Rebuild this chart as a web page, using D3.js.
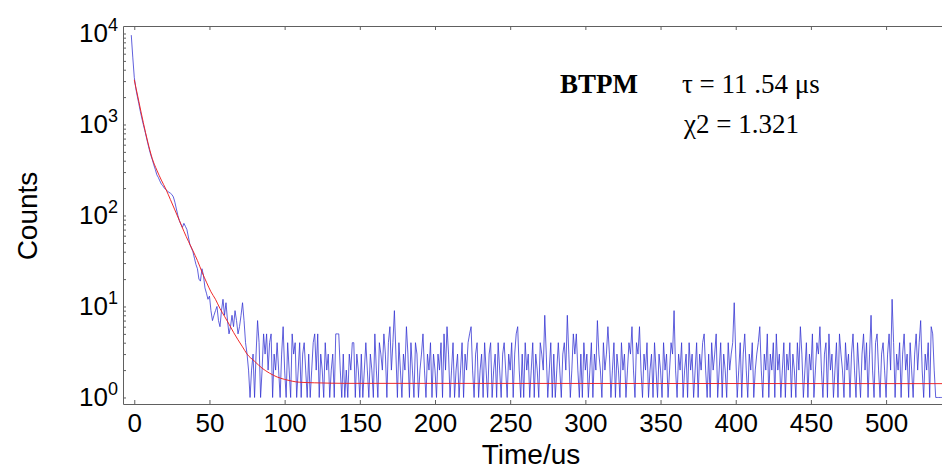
<!DOCTYPE html>
<html>
<head>
<meta charset="utf-8">
<script src="https://cdn.jsdelivr.net/npm/d3@7"></script>
<style>
  body { margin: 0; background: #fff; }
  svg { display: block; }
  .axis path, .axis line { stroke: #606060; stroke-width: 1; }
</style>
</head>
<body>
<div id="vis"></div>
<script>
//###############################################################
// Decay curve, log counts vs time (blue = data, red = fit)
//###############################################################
const FRAME_WIDTH = 942;
const FRAME_HEIGHT = 470;
const MARGINS = {left: 123, right: -10, top: 26, bottom: 66};

// first bin of the data is at t = -2 us, bins are 1 us wide
const T_START = -2;

// t = -2 .. 75
const decayCounts = [
  9600, 5500, 3300, 2500, 2050, 1700, 1400, 1180, 1000, 860, 730, 620,
  530, 460, 410, 360, 320, 280, 262, 240, 222, 212, 200, 192,
  186, 180, 176, 170, 160, 140, 118, 100, 88, 80, 74, 82,
  76, 70, 58, 48, 44, 40, 34, 29, 26, 20, 19, 26,
  22, 16, 14, 12, 13, 9, 7, 8, 9, 10, 7, 6,
  9, 12, 8, 11, 7, 5, 6, 8, 6, 9, 7, 5, 6, 8, 11, 7, 4, 3
];

// t = 76 .. 538
const tailCounts = [
  2, 1, 2, 3, 1, 3, 7, 4, 1, 2, 5, 3, 5, 2, 4, 5, 1, 3, 2, 4,
  2, 1, 3, 6, 2, 1, 4, 2, 1, 5, 3, 4, 1, 2, 4, 1, 3, 4, 2, 1,
  3, 1, 2, 4, 5, 2, 5, 1, 3, 2, 1, 4, 2, 3, 1, 2, 3, 1, 5, 5,
  5, 2, 1, 3, 1, 2, 1, 3, 2, 4, 4, 1, 3, 2, 1, 3, 1, 2, 4, 2,
  1, 3, 2, 1, 5, 2, 1, 4, 3, 2, 5, 3, 1, 4, 6, 2, 4, 9, 3, 1,
  4, 2, 1, 3, 2, 6, 3, 1, 4, 2, 1, 4, 3, 1, 2, 3, 5, 2, 1, 3,
  2, 4, 1, 3, 2, 1, 3, 2, 4, 1, 5, 2, 6, 3, 1, 2, 4, 1, 2, 3,
  1, 2, 4, 1, 3, 2, 4, 5, 6, 2, 1, 3, 4, 1, 2, 3, 1, 4, 2, 1,
  3, 4, 1, 2, 3, 1, 4, 2, 1, 3, 4, 2, 1, 3, 2, 4, 1, 3, 5, 6,
  2, 1, 3, 1, 4, 2, 3, 1, 2, 4, 1, 3, 2, 1, 4, 3, 2, 8, 3, 1,
  2, 4, 1, 3, 1, 2, 4, 2, 1, 3, 4, 2, 8, 3, 1, 2, 5, 3, 5, 2,
  1, 3, 1, 4, 2, 3, 1, 2, 4, 1, 3, 2, 7, 3, 2, 1, 4, 2, 3, 6,
  3, 1, 2, 4, 1, 3, 2, 1, 4, 2, 3, 1, 2, 4, 3, 6, 2, 1, 4, 3,
  6, 2, 1, 3, 2, 4, 1, 2, 3, 1, 4, 2, 1, 3, 2, 1, 4, 2, 3, 1,
  2, 4, 3, 9, 2, 1, 3, 2, 4, 1, 2, 3, 1, 4, 2, 3, 1, 2, 4, 1,
  3, 2, 4, 5, 2, 1, 3, 1, 4, 2, 3, 5, 1, 2, 4, 1, 3, 2, 1, 4,
  2, 3, 4, 11, 3, 1, 2, 4, 1, 3, 5, 2, 1, 3, 2, 4, 1, 2, 3, 4,
  6, 2, 1, 3, 2, 5, 1, 3, 2, 4, 1, 5, 2, 3, 1, 2, 4, 1, 3, 2,
  4, 1, 3, 2, 1, 4, 2, 6, 3, 1, 2, 4, 1, 3, 2, 5, 1, 2, 4, 3,
  6, 2, 1, 3, 4, 1, 5, 2, 3, 1, 2, 4, 1, 5, 3, 2, 1, 4, 2, 3,
  1, 3, 5, 2, 1, 4, 2, 1, 3, 5, 2, 4, 1, 3, 8, 2, 1, 4, 5, 2,
  1, 3, 4, 2, 1, 3, 5, 2, 12, 4, 1, 3, 2, 4, 1, 3, 5, 2, 3, 1,
  4, 2, 1, 3, 5, 2, 4, 7, 2, 1, 3, 2, 4, 1, 6, 5, 2, 1, 1, 1,
  1, 1, 1
];

// fitted curve
const fitTimes  = [0, 3, 6, 9, 12, 15, 18, 21, 24, 27, 30, 33, 36, 39, 42, 45, 48,
                   51, 54, 57, 60, 63, 66, 69, 72, 75, 80, 85, 90, 95, 100, 105,
                   110, 120, 140, 538];
const fitCounts = [3100, 1800, 1050, 640, 420, 315, 245, 195, 150, 115, 88, 67, 52,
                   41, 32, 24, 18.5, 14.5, 12, 9.5, 7.8, 6.4, 5.2, 4.3, 3.6, 3.0,
                   2.5, 2.1, 1.85, 1.68, 1.58, 1.51, 1.47, 1.45, 1.43, 1.42];

const xTicks = [0, 50, 100, 150, 200, 250, 300, 350, 400, 450, 500];
const yTicks = [1, 10, 100, 1000, 10000];
const yExponents = ["0", "1", "2", "3", "4"];

const counts = decayCounts.concat(tailCounts);
const data = counts.map((c, i) => { return {t: T_START + i, c: c}; });
const fit = fitTimes.map((t, i) => { return {t: t, c: fitCounts[i]}; });

const FRAME = d3.select("#vis")
                  .append("svg")
                    .attr("width", FRAME_WIDTH)
                    .attr("height", FRAME_HEIGHT);

// scales: 1.5 px per us, ~91 px per decade
const X_SCALE = d3.scaleLinear()
                  .domain([-7.5, 545])
                  .range([MARGINS.left, FRAME_WIDTH - MARGINS.right + 1.75]);
const Y_SCALE = d3.scaleLog()
                  .domain([0.848, 12090])
                  .range([FRAME_HEIGHT - MARGINS.bottom, MARGINS.top]);

const PLOT_BOTTOM = FRAME_HEIGHT - MARGINS.bottom;

FRAME.append("clipPath")
    .attr("id", "plot-clip")
  .append("rect")
    .attr("x", MARGINS.left)
    .attr("y", MARGINS.top)
    .attr("width", FRAME_WIDTH)
    .attr("height", PLOT_BOTTOM - MARGINS.top);

// data line (thin, so it reads lighter like the original)
const dataLine = d3.line()
                   .x((d) => { return X_SCALE(d.t); })
                   .y((d) => { return Y_SCALE(d.c); });

FRAME.append("path")
    .datum(data)
    .attr("clip-path", "url(#plot-clip)")
    .attr("fill", "none")
    .attr("stroke", "#3535d2")
    .attr("stroke-opacity", 0.88)
    .attr("stroke-width", 0.9)
    .attr("d", dataLine);

// fit line on top
const fitLine = d3.line()
                  .curve(d3.curveMonotoneX)
                  .x((d) => { return X_SCALE(d.t); })
                  .y((d) => { return Y_SCALE(d.c); });

FRAME.append("path")
    .datum(fit)
    .attr("clip-path", "url(#plot-clip)")
    .attr("fill", "none")
    .attr("stroke", "#ee2020")
    .attr("stroke-width", 0.95)
    .attr("d", fitLine);

// bottom axis, ticks pointing in
FRAME.append("g")
    .attr("class", "axis")
    .attr("transform", "translate(0," + PLOT_BOTTOM + ")")
    .call(d3.axisBottom(X_SCALE).tickValues(xTicks).tickSizeInner(-4)
            .tickSizeOuter(0).tickPadding(10))
    .call(g => g.selectAll("text")
                .attr("fill", "#000")
                .attr("font-family", "'Liberation Sans', Arial, sans-serif")
                .attr("font-size", "26px"));

// top axis, ticks only
FRAME.append("g")
    .attr("class", "axis")
    .attr("transform", "translate(0," + MARGINS.top + ")")
    .call(d3.axisTop(X_SCALE).tickValues(xTicks).tickSizeInner(-4)
            .tickSizeOuter(0).tickFormat(""));

// left axis with minor ticks
const minorTicks = [];
yTicks.slice(0, -1).forEach((d) => {
  for (let k = 1; k <= 9; k++) { minorTicks.push(d * k); }
});
minorTicks.push(10000);

FRAME.append("g")
    .attr("class", "axis")
    .attr("transform", "translate(" + MARGINS.left + ",0)")
    .call(d3.axisLeft(Y_SCALE).tickValues(minorTicks).tickSizeInner(-3)
            .tickSizeOuter(0).tickFormat(""));

// y tick labels as 10^n
const yLabels = FRAME.selectAll(".ylab")
    .data(yTicks)
    .enter()
    .append("text")
      .attr("class", "ylab")
      .attr("x", 118)
      .attr("y", (d) => { return Y_SCALE(d) + 8.5; })
      .attr("text-anchor", "end")
      .attr("font-family", "'Liberation Sans', Arial, sans-serif")
      .attr("font-size", "26px")
      .attr("fill", "#000");
yLabels.append("tspan").text("10");
yLabels.append("tspan")
    .attr("dy", -11)
    .attr("font-size", "18px")
    .text((d, i) => { return yExponents[i]; });

// axis titles
FRAME.append("text")
    .attr("x", 531)
    .attr("y", 464)
    .attr("text-anchor", "middle")
    .attr("font-family", "'Liberation Sans', Arial, sans-serif")
    .attr("font-size", "28px")
    .text("Time/us");

FRAME.append("text")
    .attr("transform", "translate(37,216) rotate(-90)")
    .attr("text-anchor", "middle")
    .attr("font-family", "'Liberation Sans', Arial, sans-serif")
    .attr("font-size", "28px")
    .text("Counts");

// annotation
FRAME.append("text")
    .attr("x", 560)
    .attr("y", 93)
    .attr("font-family", "'Liberation Serif', 'Times New Roman', serif")
    .attr("font-weight", "bold")
    .attr("font-size", "27px")
    .text("BTPM");

FRAME.append("text")
    .attr("x", 682)
    .attr("y", 93)
    .attr("font-family", "'Liberation Serif', 'Times New Roman', serif")
    .attr("font-size", "27px")
    .attr("xml:space", "preserve")
    .text("τ = 11 .54 μs");

FRAME.append("text")
    .attr("x", 684)
    .attr("y", 133)
    .attr("font-family", "'Liberation Serif', 'Times New Roman', serif")
    .attr("font-size", "27px")
    .text("χ2 = 1.321");
</script>
</body>
</html>
